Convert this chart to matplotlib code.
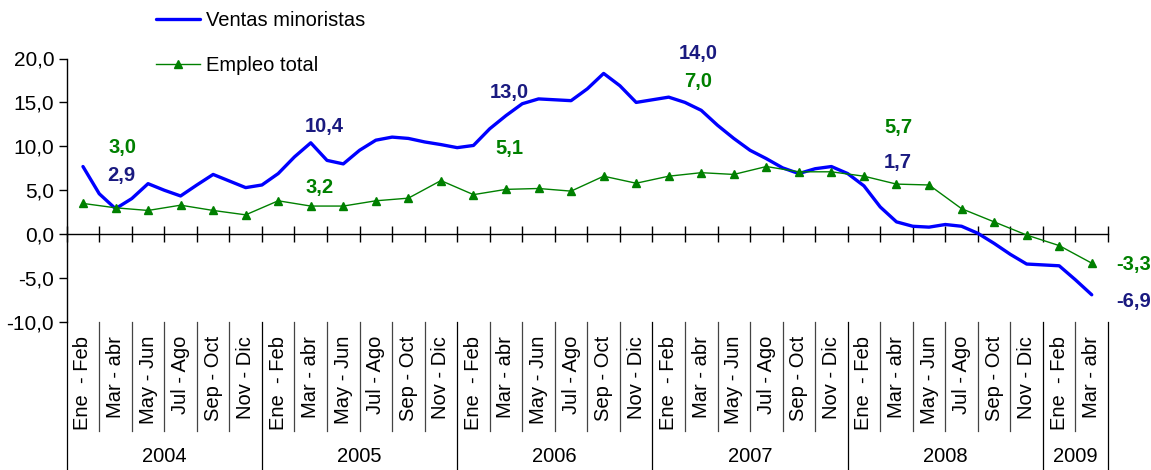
import numpy as np
import matplotlib
matplotlib.use('Agg')
import matplotlib.pyplot as plt
import matplotlib.transforms as mtransforms
from matplotlib.lines import Line2D
from matplotlib.ticker import FuncFormatter

plt.rcParams['font.family'] = ['Liberation Sans', 'DejaVu Sans']

# ---------------- data ----------------
years = ['2004', '2005', '2006', '2007', '2008', '2009']
periods = ['Ene  - Feb', 'Mar - abr', 'May - Jun', 'Jul - Ago', 'Sep - Oct', 'Nov - Dic']
periods_per_year = [6, 6, 6, 6, 6, 2]
categories = [p for n in periods_per_year for p in periods[:n]]

# Empleo total (one value per bimonthly period)
empleo = [3.5, 3.0, 2.7, 3.3, 2.7, 2.2, 3.8, 3.2, 3.2, 3.8, 4.1, 6.1,
          4.5, 5.1, 5.2, 4.9, 6.6, 5.8, 6.6, 7.0, 6.8, 7.7, 7.1, 7.1,
          6.6, 5.7, 5.6, 2.9, 1.4, -0.1, -1.3, -3.3]

# Ventas minoristas (sampled every half period)
ventas = [7.7, 4.6, 2.9, 4.05, 5.75, 5.0, 4.35, 5.6, 6.8, 6.05, 5.3, 5.6,
          6.9, 8.8, 10.4, 8.4, 8.0, 9.55, 10.7, 11.05, 10.9, 10.5, 10.2, 9.85,
          10.1, 12.0, 13.5, 14.85, 15.4, 15.3, 15.2, 16.55, 18.3, 16.9, 15.0, 15.3,
          15.6, 15.0, 14.1, 12.4, 10.9, 9.55, 8.6, 7.55, 6.9, 7.45, 7.7, 6.9,
          5.5, 3.1, 1.4, 0.9, 0.8, 1.1, 0.9, 0.1, -1.05, -2.3, -3.4, -3.5,
          -3.6, -5.2, -6.9]

# Data labels (Mar-abr of each year)
label_idx = [1, 7, 13, 19, 25, 31]
ventas_lbl = [2.9, 10.4, 13.0, 14.0, 1.7, -6.9]
empleo_lbl = [3.0, 3.2, 5.1, 7.0, 5.7, -3.3]

# ---------------- layout / style ----------------
W, H = 1151, 470
BLUE = '#0000FF'
GREEN = '#008000'
NAVY = '#1a1a80'
FS = 14.5

# text positions of the data labels (data coords)
ventas_lbl_pos = [(1.17, 6.7), (7.4, 12.3), (13.1, 16.1), (18.9, 20.6), (25.05, 8.2), (32.3, -7.7)]
empleo_lbl_pos = [(1.23, 9.9), (7.26, 5.35), (13.1, 9.8), (18.9, 17.4), (25.05, 12.2), (32.3, -3.5)]

fig = plt.figure(figsize=(W / 100, H / 100), dpi=100)
x_left, x_right = 66.7, 1108
y_top, y_bot = 58.5, 322
ax = fig.add_axes([x_left / W, 1 - y_bot / H, (x_right - x_left) / W, (y_bot - y_top) / H])

n = len(categories)
xe = np.arange(n)
xv = np.arange(len(ventas)) * 0.5

ax.plot(xv, ventas, color=BLUE, lw=2.4, solid_joinstyle='round', solid_capstyle='round',
        label='Ventas minoristas', zorder=3)
ax.plot(xe, empleo, color=GREEN, lw=1.0, marker='^', markersize=6, label='Empleo total', zorder=4)

ax.set_xlim(-0.5, n - 0.5)
ax.set_ylim(-10, 20)
ax.set_yticks(np.arange(-10, 21, 5))
ax.yaxis.set_major_formatter(FuncFormatter(lambda v, p: f'{v:.1f}'.replace('.', ',')))
ax.tick_params(axis='y', direction='out', length=6, width=1, labelsize=15, pad=3)

for s in ['top', 'right']:
    ax.spines[s].set_visible(False)
ax.spines['bottom'].set_position(('data', 0))
ax.spines['bottom'].set_linewidth(1)
ax.spines['left'].set_linewidth(1)
ax.set_xticks(np.arange(-0.5, n, 1))
ax.set_xticklabels([])
ax.tick_params(axis='x', direction='inout', length=11, width=1)

# data labels
for v, (tx, ty) in zip(ventas_lbl, ventas_lbl_pos):
    ax.text(tx, ty, f'{v:.1f}'.replace('.', ','), color=NAVY, fontsize=FS, fontweight='bold',
            ha='center', va='center', clip_on=False)
for v, (tx, ty) in zip(empleo_lbl, empleo_lbl_pos):
    ax.text(tx, ty, f'{v:.1f}'.replace('.', ','), color=GREEN, fontsize=FS, fontweight='bold',
            ha='center', va='center', clip_on=False)

# category axis below the plot
blend = mtransforms.blended_transform_factory(ax.transData, fig.transFigure)
y_ax_bot = 1 - y_bot / H
y_cat_top = 1 - 336 / H
y_sep_end = 1 - 431 / H
y_year = 1 - 457 / H

for i, c in enumerate(categories):
    fig.text(i, y_cat_top, c, transform=blend, rotation=90, ha='center', va='top', fontsize=FS)

bounds = np.cumsum([0] + periods_per_year) - 0.5
for b in np.arange(-0.5, n, 1):
    if b in bounds:
        fig.add_artist(Line2D([b, b], [y_ax_bot, 0], transform=blend, color='black', lw=0.9))
    else:
        fig.add_artist(Line2D([b, b], [y_ax_bot, y_sep_end], transform=blend, color='#444444', lw=0.9))

for y, a, b in zip(years, bounds[:-1], bounds[1:]):
    fig.text((a + b) / 2, y_year, y, transform=blend, ha='center', va='center', fontsize=FS)

ax.legend(loc='upper left', bbox_to_anchor=(156 / W, 1 - 11 / H), bbox_transform=fig.transFigure,
          frameon=False, fontsize=FS, handlelength=2.2, handletextpad=0.3,
          labelspacing=1.3, borderaxespad=0, borderpad=0)

fig.savefig('out.png', dpi=100)
